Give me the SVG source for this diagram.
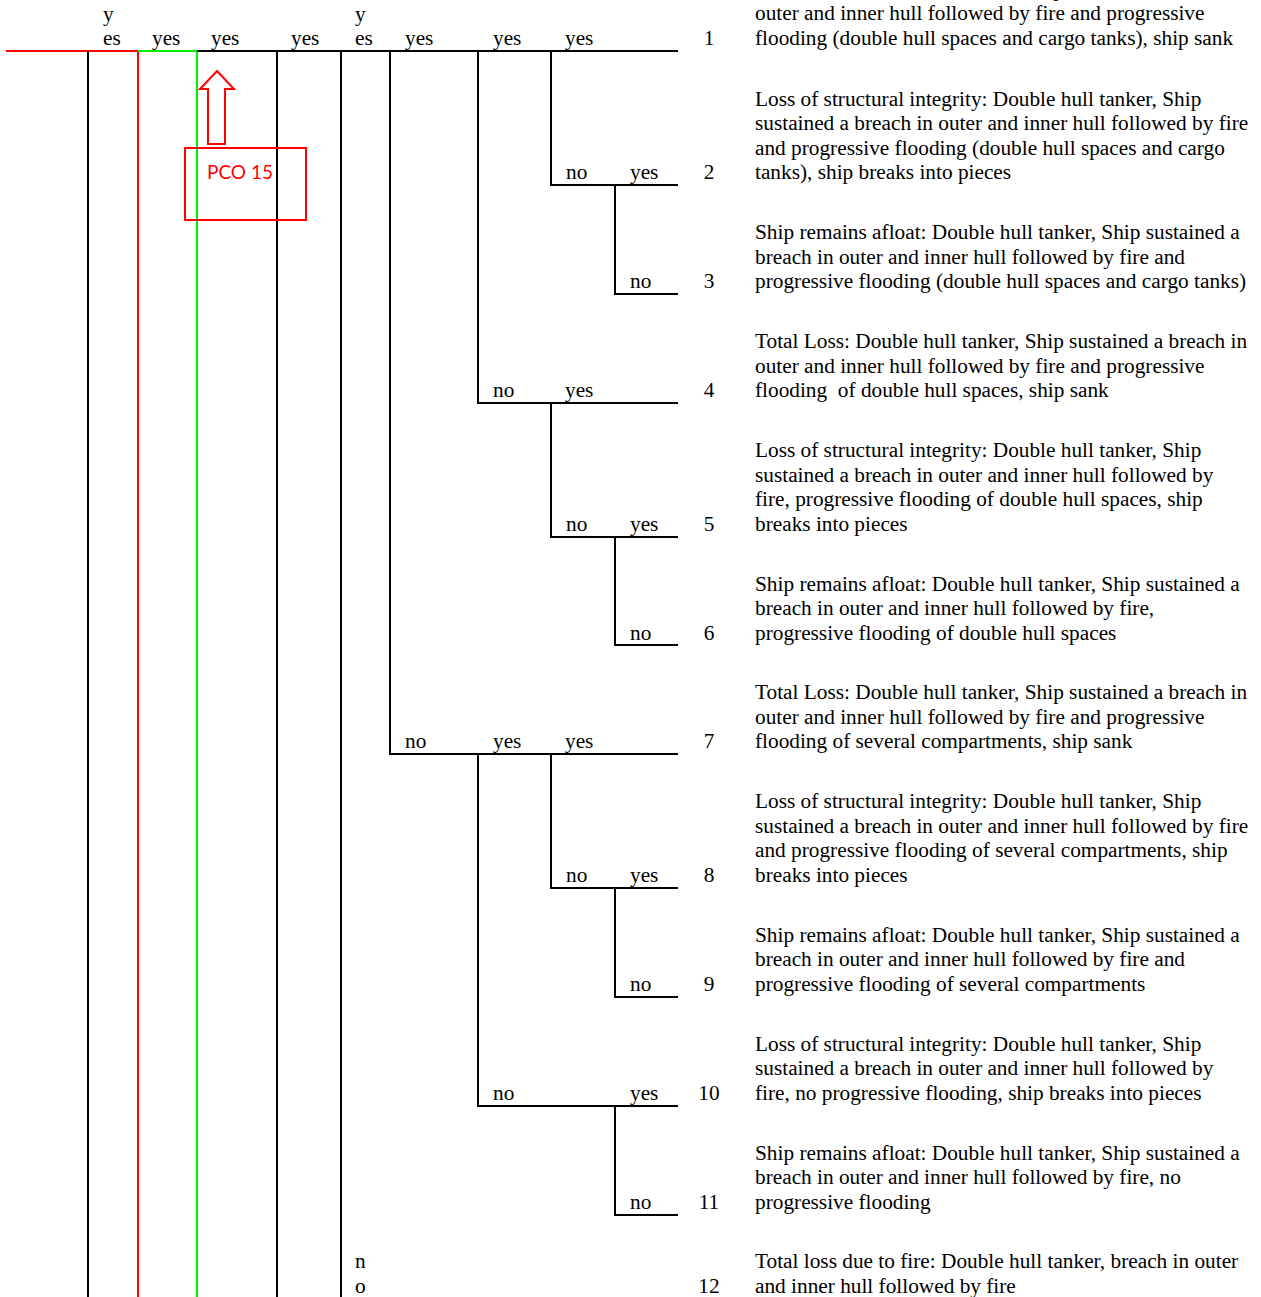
<svg xmlns="http://www.w3.org/2000/svg" width="1261" height="1297" viewBox="0 0 1261 1297">
<style>
text{font-family:"Liberation Serif","Times New Roman",serif;font-size:21.3px;fill:#000}
.n{text-anchor:middle}
.k{stroke:#000;stroke-width:2;fill:none}
.r{stroke:#ff0000;stroke-width:2;fill:none}
.g{stroke:#00ee00;stroke-width:2;fill:none}
.pco{font-family:Lato,"Open Sans",sans-serif;font-size:19px;fill:#ff0000}
</style>
<rect width="1261" height="1297" fill="#fff"/>
<g id="connectors">
<path class="r" d="M6 51H138V1297"/>
<path class="g" d="M138 51H197V1297"/>
<path class="k" d="M197 51H678"/>
<path class="k" d="M88 51V1297M277 51V1297M341 51V1297"/>
<path class="k" d="M390 51V754H678"/>
<path class="k" d="M478 51V403H678M551 51V185H678M615 185V294H678"/>
<path class="k" d="M551 403V537H678M615 537V645H678"/>
<path class="k" d="M478 754V1106H678M551 754V888H678M615 888V997H678M615 1106V1215H678"/>
</g>
<g id="pco15">
<rect class="r" x="185" y="148" width="121" height="72"/>
<polygon class="r" fill="#fff" points="217,71 234,89 225,89 225,144 208,144 208,89 200,89"/>
<text class="pco" x="207" y="179">PCO 15</text>
</g>
<g id="labels">
<text x="103" y="21">y</text><text x="103" y="45">es</text>
<text x="152" y="45">yes</text><text x="211" y="45">yes</text><text x="291" y="45">yes</text>
<text x="355" y="21">y</text><text x="355" y="45">es</text>
<text x="405" y="45">yes</text><text x="493" y="45">yes</text><text x="565" y="45">yes</text>
<text x="566" y="179">no</text><text x="630" y="179">yes</text>
<text x="630" y="288">no</text>
<text x="493" y="397">no</text><text x="565" y="397">yes</text>
<text x="566" y="531">no</text><text x="630" y="531">yes</text>
<text x="630" y="640">no</text>
<text x="405" y="748">no</text><text x="493" y="748">yes</text><text x="565" y="748">yes</text>
<text x="566" y="882">no</text><text x="630" y="882">yes</text>
<text x="630" y="991">no</text>
<text x="493" y="1100">no</text><text x="630" y="1100">yes</text>
<text x="630" y="1209">no</text>
<text x="355" y="1268">n</text><text x="355" y="1293">o</text>
</g>
<g id="numbers">
<text class="n" x="709" y="45">1</text>
<text class="n" x="709" y="179">2</text>
<text class="n" x="709" y="288">3</text>
<text class="n" x="709" y="397">4</text>
<text class="n" x="709" y="531">5</text>
<text class="n" x="709" y="640">6</text>
<text class="n" x="709" y="748">7</text>
<text class="n" x="709" y="882">8</text>
<text class="n" x="709" y="991">9</text>
<text class="n" x="709" y="1100">10</text>
<text class="n" x="709" y="1209">11</text>
<text class="n" x="709" y="1293">12</text>
</g>
<g id="outcomes">
<text x="755" y="-4">Total Loss: Double hull tanker, Ship sustained a breach in</text>
<text x="755" y="20">outer and inner hull followed by fire and progressive</text>
<text x="755" y="45">flooding (double hull spaces and cargo tanks), ship sank</text>
<text x="755" y="106">Loss of structural integrity: Double hull tanker, Ship</text>
<text x="755" y="130">sustained a breach in outer and inner hull followed by fire</text>
<text x="755" y="155">and progressive flooding (double hull spaces and cargo</text>
<text x="755" y="179">tanks), ship breaks into pieces</text>
<text x="755" y="239">Ship remains afloat: Double hull tanker, Ship sustained a</text>
<text x="755" y="264">breach in outer and inner hull followed by fire and</text>
<text x="755" y="288">progressive flooding (double hull spaces and cargo tanks)</text>
<text x="755" y="348">Total Loss: Double hull tanker, Ship sustained a breach in</text>
<text x="755" y="373">outer and inner hull followed by fire and progressive</text>
<text x="755" y="397" xml:space="preserve">flooding  of double hull spaces, ship sank</text>
<text x="755" y="457">Loss of structural integrity: Double hull tanker, Ship</text>
<text x="755" y="482">sustained a breach in outer and inner hull followed by</text>
<text x="755" y="506">fire, progressive flooding of double hull spaces, ship</text>
<text x="755" y="531">breaks into pieces</text>
<text x="755" y="591">Ship remains afloat: Double hull tanker, Ship sustained a</text>
<text x="755" y="615">breach in outer and inner hull followed by fire,</text>
<text x="755" y="640">progressive flooding of double hull spaces</text>
<text x="755" y="699">Total Loss: Double hull tanker, Ship sustained a breach in</text>
<text x="755" y="724">outer and inner hull followed by fire and progressive</text>
<text x="755" y="748">flooding of several compartments, ship sank</text>
<text x="755" y="808">Loss of structural integrity: Double hull tanker, Ship</text>
<text x="755" y="833">sustained a breach in outer and inner hull followed by fire</text>
<text x="755" y="857">and progressive flooding of several compartments, ship</text>
<text x="755" y="882">breaks into pieces</text>
<text x="755" y="942">Ship remains afloat: Double hull tanker, Ship sustained a</text>
<text x="755" y="966">breach in outer and inner hull followed by fire and</text>
<text x="755" y="991">progressive flooding of several compartments</text>
<text x="755" y="1051">Loss of structural integrity: Double hull tanker, Ship</text>
<text x="755" y="1075">sustained a breach in outer and inner hull followed by</text>
<text x="755" y="1100">fire, no progressive flooding, ship breaks into pieces</text>
<text x="755" y="1160">Ship remains afloat: Double hull tanker, Ship sustained a</text>
<text x="755" y="1184">breach in outer and inner hull followed by fire, no</text>
<text x="755" y="1209">progressive flooding</text>
<text x="755" y="1268">Total loss due to fire: Double hull tanker, breach in outer</text>
<text x="755" y="1293">and inner hull followed by fire</text>
</g>
</svg>
